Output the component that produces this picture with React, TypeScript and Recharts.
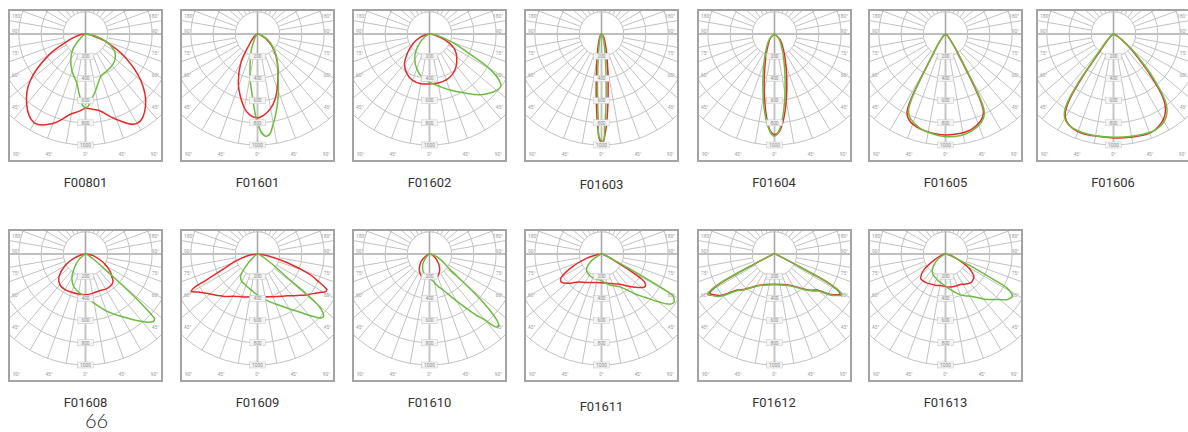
import React from 'react';
import { RadarChart, Radar, PolarGrid, PolarAngleAxis, PolarRadiusAxis } from 'recharts';

// ---- Luminous intensity curves (gamma angle in degrees, 0 = straight down; values in cd/klm) ----
const F00801_ANGLES = [-90, -80, -70, -60, -50, -40, -30, -20, -10, -5, 0, 5, 10, 20, 30, 40, 50, 60, 70, 80, 90];
const F00801_RED = [0, 55, 150, 385, 648, 825, 924, 858, 730, 700, 670, 680, 700, 820, 930, 842, 650, 405, 183, 45, 0];
const F00801_GREEN = [0, 5, 10, 20, 60, 175, 265, 355, 450, 570, 666, 594, 520, 405, 385, 372, 350, 300, 195, 80, 0];

const F01601_ANGLES = [-90, -60, -50, -40, -30, -20, -10, -5, 0, 5, 10, 15, 20, 30, 40, 50, 60, 70, 80, 90];
const F01601_RED = [0, 15, 45, 100, 300, 500, 680, 735, 756, 729, 680, 610, 520, 370, 260, 170, 90, 40, 10, 0];
const F01601_GREEN = [0, 3, 10, 25, 55, 170, 390, 550, 800, 924, 820, 680, 550, 365, 265, 180, 110, 50, 15, 0];

const F01602_ANGLES = [-90, -80, -70, -60, -50, -40, -30, -20, -10, 0, 10, 20, 30, 40, 50, 55, 60, 65, 70, 80, 90];
const F01602_RED = [0, 35, 95, 170, 255, 350, 410, 445, 455, 450, 448, 440, 417, 375, 320, 290, 255, 200, 140, 40, 0];
const F01602_GREEN = [0, 3, 15, 40, 100, 185, 265, 335, 393, 435, 476, 537, 612, 714, 790, 785, 624, 350, 222, 70, 0];

const F01603_ANGLES = [-90, -35, -20, -13, -9, -6, -4, -2, 0, 2, 4, 6, 9, 13, 20, 35, 90];
const F01603_RED = [0, 23, 71, 154, 275, 458, 650, 867, 975, 903, 740, 567, 372, 221, 106, 36, 0];
const F01603_GREEN = [0, 13, 42, 94, 178, 326, 515, 789, 960, 829, 587, 395, 227, 124, 56, 18, 0];

const F01604_ANGLES = [-90, -45, -30, -22, -16, -12, -9, -6, -3, 0, 3, 6, 9, 12, 16, 22, 30, 45, 90];
const F01604_RED = [0, 51, 116, 199, 318, 447, 576, 726, 859, 905, 875, 775, 650, 529, 397, 262, 159, 72, 0];
const F01604_GREEN = [0, 65, 145, 241, 372, 503, 628, 760, 870, 920, 862, 735, 590, 462, 333, 210, 123, 55, 0];

const F01605_ANGLES = [-90, -50, -40, -35, -30, -28, -26, -22, -15, -8, 0, 8, 15, 22, 26, 28, 30, 34, 40, 50, 90];
const F01605_RED = [0, 15, 60, 129, 340, 660, 790, 850, 885, 900, 909, 905, 891, 845, 780, 640, 360, 162, 60, 15, 0];
const F01605_GREEN = [0, 15, 55, 120, 330, 600, 760, 830, 880, 905, 925, 925, 905, 860, 800, 690, 420, 170, 65, 15, 0];

const F01606_ANGLES = [-90, -60, -50, -42, -38, -36, -34, -31, -26, -18, -9, 0, 9, 20, 28, 34, 38, 42, 46, 50, 55, 60, 90];
const F01606_RED = [0, 10, 30, 100, 200, 450, 700, 846, 912, 939, 933, 936, 942, 951, 912, 837, 720, 492, 300, 195, 90, 40, 0];
const F01606_GREEN = [0, 12, 40, 130, 260, 520, 740, 860, 915, 930, 930, 930, 935, 945, 925, 860, 750, 540, 340, 220, 100, 45, 0];

const F01608_ANGLES = [-90, -80, -70, -60, -50, -40, -30, -20, -10, 0, 10, 20, 30, 40, 45, 47, 49, 52, 57, 65, 78, 90];
const F01608_RED = [0, 30, 105, 215, 310, 360, 370, 366, 366, 366, 360, 354, 365, 365, 350, 335, 315, 295, 250, 175, 70, 0];
const F01608_GREEN = [0, 3, 8, 15, 75, 150, 245, 312, 350, 385, 450, 545, 650, 795, 861, 846, 570, 220, 83, 25, 5, 0];

const F01609_ANGLES = [-90, -80, -72, -67, -63, -61, -57, -50, -45, -38, -30, -24, -15, 0, 10, 20, 30, 36, 40, 44, 47, 50, 52, 55, 59, 61, 63, 66, 69, 74, 80, 90];
const F01609_RED = [0, 90, 210, 309, 522, 680, 630, 560, 525, 485, 440, 420, 400, 384, 392, 410, 440, 465, 490, 520, 545, 575, 590, 620, 670, 700, 700, 590, 498, 270, 100, 0];
const F01609_GREEN = [0, 5, 8, 10, 12, 13, 25, 60, 126, 246, 285, 294, 315, 370, 420, 480, 570, 645, 720, 800, 815, 700, 300, 180, 87, 70, 55, 35, 25, 12, 5, 0];

const F01610_ANGLES = [-90, -70, -53, -45, -37, -30, -21, -14, -7, 0, 7, 14, 21, 30, 37, 40, 42, 44, 46, 48, 50, 53, 58, 68, 80, 90];
const F01610_RED = [0, 20, 75, 115, 150, 180, 210, 214, 216, 216, 216, 214, 210, 180, 150, 135, 125, 115, 105, 95, 88, 75, 55, 28, 8, 0];
const F01610_GREEN = [0, 3, 15, 45, 90, 123, 165, 186, 205, 220, 243, 295, 350, 490, 680, 775, 880, 900, 820, 650, 420, 230, 160, 81, 20, 0];

const F01611_ANGLES = [-90, -80, -73, -66, -60, -55, -47, -40, -28, -15, 0, 15, 30, 40, 45, 50, 53, 56, 58, 60, 61, 62, 64, 70, 80, 90];
const F01611_RED = [0, 40, 156, 295, 417, 441, 385, 330, 290, 265, 258, 275, 312, 380, 423, 470, 490, 475, 430, 290, 210, 160, 100, 30, 8, 0];
const F01611_GREEN = [0, 3, 6, 15, 60, 115, 180, 205, 222, 230, 240, 290, 345, 470, 552, 670, 750, 785, 770, 740, 515, 315, 140, 40, 10, 0];

const F01612_ANGLES = [-90, -75, -66, -63.5, -62.5, -61.5, -59, -56, -53, -50, -46, -40, -29, -15, 0, 15, 29, 40, 46, 50, 53, 56, 59, 61.5, 62.5, 63.5, 66, 75, 90];
const F01612_RED = [0, 15, 70, 190, 380, 560, 680, 655, 620, 556, 468, 415, 327, 285, 273, 285, 327, 410, 470, 505, 590, 655, 690, 565, 385, 190, 70, 15, 0];
const F01612_GREEN = [0, 15, 75, 200, 400, 580, 700, 670, 635, 570, 480, 420, 332, 288, 276, 288, 332, 420, 480, 520, 605, 670, 705, 585, 400, 200, 75, 15, 0];

const F01613_ANGLES = [-90, -75, -63, -54, -46, -40, -32, -18, -9, 0, 8, 18, 26, 31, 41, 47, 52, 54, 58, 61, 62, 64, 67, 75, 90];
const F01613_RED = [0, 30, 100, 240, 312, 315, 309, 295, 288, 294, 300, 303, 306, 318, 345, 340, 324, 305, 260, 215, 195, 160, 114, 45, 0];
const F01613_GREEN = [0, 5, 25, 95, 145, 186, 215, 243, 262, 290, 324, 380, 420, 443, 540, 600, 670, 695, 710, 633, 492, 285, 114, 30, 0];

// ring values (cd/klm) and grid spokes
const RING_TICKS = [200, 400, 600, 800, 1000];
const GRID_ANGLES = [0, 10, 20, 30, 40, 50, 60, 70, 80, 90, 100, 110, 120, 130, 140, 150, 160, 170, 180, 190, 200, 210, 220, 230, 240, 250, 260, 270, 280, 290, 300, 310, 320, 330, 340, 350];
const EDGE_LABELS = ['180°', '90°', '75°', '60°', '45°'];
const BOTTOM_LABELS = ['90°', '45°', '0°', '45°', '90°'];

type Panel = { name: string; angles: number[]; red: number[]; green: number[]; col: number; row: number; labelShift: number };

const PANELS: Panel[] = [
  { name: 'F00801', angles: F00801_ANGLES, red: F00801_RED, green: F00801_GREEN, col: 0, row: 0, labelShift: 0 },
  { name: 'F01601', angles: F01601_ANGLES, red: F01601_RED, green: F01601_GREEN, col: 1, row: 0, labelShift: 0 },
  { name: 'F01602', angles: F01602_ANGLES, red: F01602_RED, green: F01602_GREEN, col: 2, row: 0, labelShift: 0 },
  { name: 'F01603', angles: F01603_ANGLES, red: F01603_RED, green: F01603_GREEN, col: 3, row: 0, labelShift: 2 },
  { name: 'F01604', angles: F01604_ANGLES, red: F01604_RED, green: F01604_GREEN, col: 4, row: 0, labelShift: 0 },
  { name: 'F01605', angles: F01605_ANGLES, red: F01605_RED, green: F01605_GREEN, col: 5, row: 0, labelShift: 0 },
  { name: 'F01606', angles: F01606_ANGLES, red: F01606_RED, green: F01606_GREEN, col: 6, row: 0, labelShift: 0 },
  { name: 'F01608', angles: F01608_ANGLES, red: F01608_RED, green: F01608_GREEN, col: 0, row: 1, labelShift: 0 },
  { name: 'F01609', angles: F01609_ANGLES, red: F01609_RED, green: F01609_GREEN, col: 1, row: 1, labelShift: 0 },
  { name: 'F01610', angles: F01610_ANGLES, red: F01610_RED, green: F01610_GREEN, col: 2, row: 1, labelShift: 0 },
  { name: 'F01611', angles: F01611_ANGLES, red: F01611_RED, green: F01611_GREEN, col: 3, row: 1, labelShift: 4 },
  { name: 'F01612', angles: F01612_ANGLES, red: F01612_RED, green: F01612_GREEN, col: 4, row: 1, labelShift: 0 },
  { name: 'F01613', angles: F01613_ANGLES, red: F01613_RED, green: F01613_GREEN, col: 5, row: 1, labelShift: 0 },
];

// ---- layout ----
const COL_CENTERS = [85.5, 257.5, 429.5, 601.5, 774, 945.5, 1113];
const ROW_TOPS = [9, 229];
const LABEL_BASELINES = [187, 407];
const FRAME_W = 155;
const FRAME_H = 153;
const BORDER = 2;
const INNER_W = FRAME_W - 2 * BORDER;
const INNER_H = FRAME_H - 2 * BORDER;
const CX = INNER_W / 2;
const CY = 23;
const R_OUT = 111;
const R_IN = 22.2;

const RED = '#e62a2a';
const GREEN = '#6cbd3f';
const GRID = '#c2c2c2';
const AXIS = '#a8a8a8';

type Pt = { x: number; y: number };

// smooth closed path through the points computed by the Radar (library scales)
function smoothClosedPath(pts: Pt[]): string {
  const n = pts.length;
  if (n < 2) return '';
  const dist = (a: Pt, b: Pt) => Math.hypot(b.x - a.x, b.y - a.y);
  const unit = (a: Pt, b: Pt, fa: Pt, fb: Pt) => {
    let dx = b.x - a.x;
    let dy = b.y - a.y;
    let l = Math.hypot(dx, dy);
    if (l < 1e-6) {
      dx = fb.x - fa.x;
      dy = fb.y - fa.y;
      l = Math.hypot(dx, dy);
    }
    return l < 1e-6 ? { x: 0, y: 0 } : { x: dx / l, y: dy / l };
  };
  let d = `M${pts[0].x.toFixed(2)},${pts[0].y.toFixed(2)}`;
  for (let i = 0; i < n; i++) {
    const p0 = pts[(i - 1 + n) % n];
    const p1 = pts[i];
    const p2 = pts[(i + 1) % n];
    const p3 = pts[(i + 2) % n];
    const len = dist(p1, p2);
    if (len < 0.05) {
      d += ` L${p2.x.toFixed(2)},${p2.y.toFixed(2)}`;
      continue;
    }
    const t1 = unit(p0, p2, p1, p2);
    const t2 = unit(p1, p3, p1, p2);
    const k = len / 3;
    const c1 = { x: p1.x + t1.x * k, y: p1.y + t1.y * k };
    const c2 = { x: p2.x - t2.x * k, y: p2.y - t2.y * k };
    d += ` C${c1.x.toFixed(2)},${c1.y.toFixed(2)} ${c2.x.toFixed(2)},${c2.y.toFixed(2)} ${p2.x.toFixed(2)},${p2.y.toFixed(2)}`;
  }
  return d + ' Z';
}

const makeShape = (color: string) => (props: any) => {
  const pts: Pt[] = (props.points || []).filter((p: any) => Number.isFinite(p.x) && Number.isFinite(p.y));
  return <path d={smoothClosedPath(pts)} fill="none" stroke={color} strokeWidth={1.5} strokeLinejoin="round" />;
};
const RedShape = makeShape(RED);
const GreenShape = makeShape(GREEN);

const RingTick = (props: any) => {
  const { x, y, payload } = props;
  return (
    <g>
      <rect x={x - 8} y={y - 3} width={16} height={6} fill="#f4f4f4" stroke="#c4c4c4" strokeWidth={0.5} />
      <text x={x} y={y + 1.8} textAnchor="middle" fontSize={4.8} fill="#8c8c8c" fontFamily="Roboto, sans-serif">
        {payload.value}
      </text>
    </g>
  );
};

function PolarPanel({ panel }: { panel: Panel }) {
  const rows = panel.angles.map((g, i) => ({ g, red: panel.red[i], green: panel.green[i] }));
  const left = COL_CENTERS[panel.col] - FRAME_W / 2;
  const top = ROW_TOPS[panel.row];
  const edgeY = [5, 20, 42, 64, 96];
  const bottomX = [3, 39, CX, INNER_W - 39, INNER_W - 3];
  const anchors = ['start', 'middle', 'middle', 'middle', 'end'] as const;
  return (
    <div
      style={{
        position: 'absolute',
        left,
        top,
        width: FRAME_W,
        height: FRAME_H,
        boxSizing: 'border-box',
        border: `${BORDER}px solid #a3a3a3`,
        background: '#fff',
      }}
    >
      <svg width={INNER_W} height={INNER_H} style={{ position: 'absolute', left: 0, top: 0 }}>
        <line x1={0} y1={CY} x2={INNER_W} y2={CY} stroke={AXIS} strokeWidth={1.6} />
        <line x1={CX} y1={0} x2={CX} y2={CY + R_OUT} stroke={AXIS} strokeWidth={1.6} />
        {edgeY.map((y, i) => (
          <g key={i}>
            <text x={2} y={y + 1.5} fontSize={4.8} fill="#9a9a9a" fontFamily="Roboto, sans-serif">{EDGE_LABELS[i]}</text>
            <text x={INNER_W - 2} y={y + 1.5} fontSize={4.8} fill="#9a9a9a" textAnchor="end" fontFamily="Roboto, sans-serif">{EDGE_LABELS[i]}</text>
          </g>
        ))}
        {bottomX.map((x, i) => (
          <text key={i} x={x} y={INNER_H - 4} fontSize={4.8} fill="#9a9a9a" textAnchor={anchors[i]} fontFamily="Roboto, sans-serif">
            {BOTTOM_LABELS[i]}
          </text>
        ))}
      </svg>
      <RadarChart
        width={INNER_W}
        height={INNER_H}
        data={rows}
        cx={CX}
        cy={CY}
        innerRadius={R_IN}
        outerRadius={R_OUT}
        startAngle={-270}
        endAngle={90}
        margin={{ top: 0, right: 0, bottom: 0, left: 0 }}
      >
        <PolarGrid gridType="circle" polarAngles={GRID_ANGLES} stroke={GRID} strokeWidth={1} />
        <PolarAngleAxis type="number" dataKey="g" domain={[-180, 180]} tick={false} axisLine={false} tickLine={false} />
        <PolarRadiusAxis
          angle={-90}
          type="number"
          domain={[200, 1000]}
          allowDataOverflow
          ticks={RING_TICKS as any}
          tickCount={5}
          axisLine={false}
          tickLine={false}
          tick={<RingTick />}
        />
        <Radar dataKey="red" stroke={RED} strokeWidth={1.5} fill="none" fillOpacity={0} dot={false} shape={RedShape} isAnimationActive={false} />
        <Radar dataKey="green" stroke={GREEN} strokeWidth={1.5} fill="none" fillOpacity={0} dot={false} shape={GreenShape} isAnimationActive={false} />
      </RadarChart>
    </div>
  );
}

export default function App() {
  return (
    <div style={{ position: 'absolute', left: 0, top: 0, width: 1188, height: 432, overflow: 'hidden', background: '#fff' }}>
      <svg width={1188} height={432} style={{ position: 'absolute', left: 0, top: 0 }}>
        {PANELS.map((p) => (
          <text
            key={p.name}
            x={COL_CENTERS[p.col]}
            y={LABEL_BASELINES[p.row] + p.labelShift}
            textAnchor="middle"
            fontSize={13}
            fill="#333"
            fontFamily="Roboto, sans-serif"
          >
            {p.name}
          </text>
        ))}
        <text x={96.5} y={428} textAnchor="middle" fontSize={20} fontWeight={300} fill="#222" fontFamily="Lato, sans-serif">
          66
        </text>
      </svg>
      {PANELS.map((p) => (
        <PolarPanel key={p.name} panel={p} />
      ))}
    </div>
  );
}
